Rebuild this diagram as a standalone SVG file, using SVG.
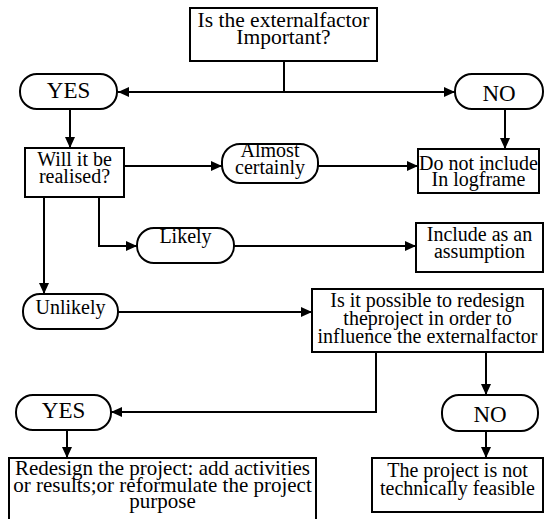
<svg xmlns="http://www.w3.org/2000/svg" width="545" height="519" viewBox="0 0 545 519" font-family="'Liberation Serif', 'DejaVu Serif', serif">
<style>
.box{fill:#fff;stroke:#000;stroke-width:2}
text{font-family:'Liberation Serif','DejaVu Serif',serif;font-size:20px;fill:#000;text-anchor:middle}
text.big{font-size:23px}
text.l{font-size:21px}
text.xl{font-size:21.5px}
.c{fill:none;stroke:#000;stroke-width:2}
</style>
<defs>
<marker id="ah" markerUnits="userSpaceOnUse" markerWidth="12" markerHeight="10" refX="11" refY="5" orient="auto">
<path d="M0,0 L11,5 L0,10 Z" fill="#000"/>
</marker>
</defs>
<rect width="545" height="519" fill="#fff"/>
<g id="connectors">
<path class="c" d="M284,62 V92"/>
<path class="c" d="M284,92 H118" marker-end="url(#ah)"/>
<path class="c" d="M284,92 H455" marker-end="url(#ah)"/>
<path class="c" d="M70,109 V148" marker-end="url(#ah)"/>
<path class="c" d="M505,109 V149" marker-end="url(#ah)"/>
<path class="c" d="M124,166 H222" marker-end="url(#ah)"/>
<path class="c" d="M318,166 H418" marker-end="url(#ah)"/>
<path class="c" d="M99,197 V246 H137" marker-end="url(#ah)"/>
<path class="c" d="M234,246 H416" marker-end="url(#ah)"/>
<path class="c" d="M44,197 V294" marker-end="url(#ah)"/>
<path class="c" d="M118,312 H312" marker-end="url(#ah)"/>
<path class="c" d="M376,352 V412 H111" marker-end="url(#ah)"/>
<path class="c" d="M486,352 V395" marker-end="url(#ah)"/>
<path class="c" d="M67,430 V458" marker-end="url(#ah)"/>
<path class="c" d="M486,431 V458" marker-end="url(#ah)"/>
</g>
<g id="n-important">
<rect class="box" x="190" y="8" width="187" height="53"/>
<text class="xl" x="283.5" y="27">Is the externalfactor</text>
<text class="xl" x="283.5" y="44">Important?</text>
</g>
<g id="n-yes1">
<rect class="box" x="20" y="74" width="97" height="35" rx="17"/>
<text class="big" x="68.5" y="98">YES</text>
</g>
<g id="n-no1">
<rect class="box" x="455" y="74" width="88" height="35" rx="17"/>
<text class="big" x="499" y="101">NO</text>
</g>
<g id="n-will">
<rect class="box" x="25" y="148" width="99" height="49"/>
<text x="74.5" y="166">Will it be</text>
<text x="74.5" y="183">realised?</text>
</g>
<g id="n-almost">
<rect class="box" x="222" y="144" width="96" height="39" rx="18"/>
<text x="270" y="157">Almost</text>
<text x="270" y="174">certainly</text>
</g>
<g id="n-donot">
<rect class="box" x="418" y="149" width="121" height="44"/>
<text x="478.5" y="170">Do not include</text>
<text x="478.5" y="186">In logframe</text>
</g>
<g id="n-likely">
<rect class="box" x="137" y="228" width="97" height="35" rx="17"/>
<text x="185.5" y="243">Likely</text>
</g>
<g id="n-include">
<rect class="box" x="416" y="223" width="127" height="49"/>
<text x="479.5" y="241">Include as an</text>
<text x="479.5" y="258">assumption</text>
</g>
<g id="n-unlikely">
<rect class="box" x="23" y="294" width="95" height="35" rx="17"/>
<text x="70.5" y="314">Unlikely</text>
</g>
<g id="n-redesign-q">
<rect class="box" x="312" y="289" width="231" height="63"/>
<text x="427.5" y="307">Is it possible to redesign</text>
<text x="427.5" y="325">theproject in order to</text>
<text x="427.5" y="343">influence the externalfactor</text>
</g>
<g id="n-yes2">
<rect class="box" x="16" y="395" width="95" height="35" rx="17"/>
<text class="big" x="63.5" y="418">YES</text>
</g>
<g id="n-no2">
<rect class="box" x="442" y="395" width="96" height="36" rx="17"/>
<text class="big" x="490" y="422">NO</text>
</g>
<g id="n-redesign">
<rect class="box" x="9" y="458" width="307" height="66"/>
<text class="l" x="162.5" y="475">Redesign the project: add activities</text>
<text class="l" x="162.5" y="492">or results;or reformulate the project</text>
<text class="l" x="162.5" y="508">purpose</text>
</g>
<g id="n-notfeasible">
<rect class="box" x="372" y="458" width="171" height="54"/>
<text x="457.5" y="477">The project is not</text>
<text x="457.5" y="495">technically feasible</text>
</g>
</svg>
